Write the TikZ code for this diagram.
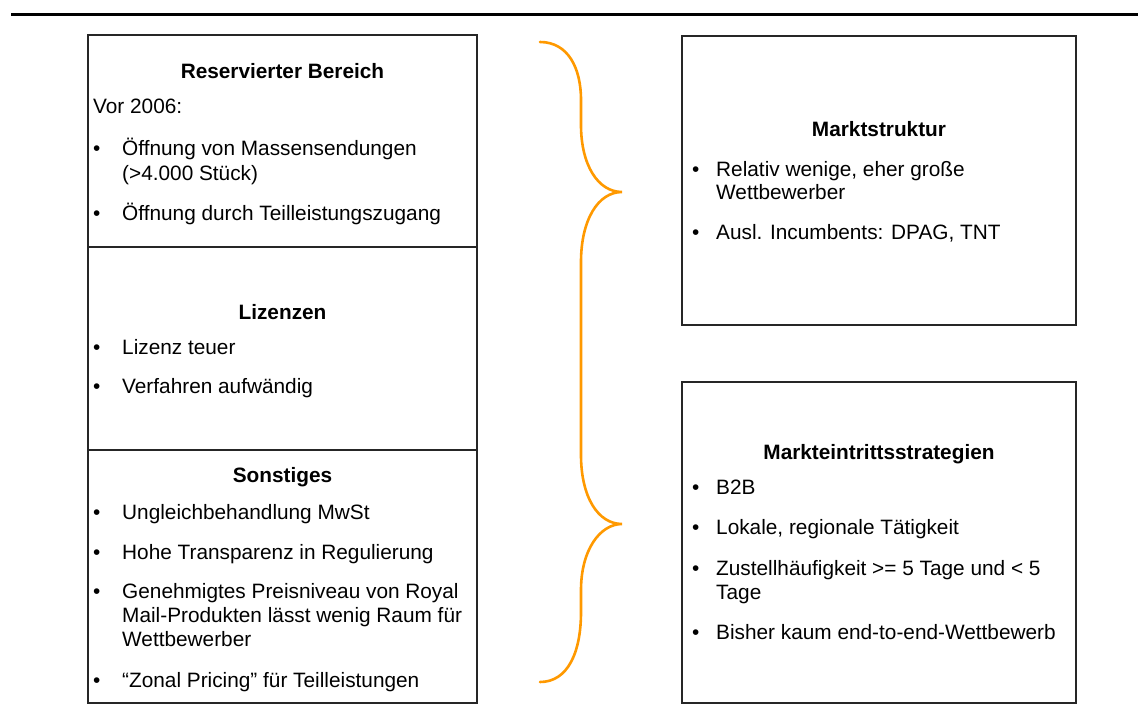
\documentclass[tikz,border=0pt]{standalone}
\usepackage{fontspec}
\setmainfont{Liberation Sans}
\definecolor{braceorange}{HTML}{FF9900}
\definecolor{boxgray}{HTML}{262626}
\begin{document}
\begin{tikzpicture}[x=1pt,y=-1pt,
  txt/.style={anchor=base west, inner sep=0pt, font=\fontsize{20.8}{24}\selectfont},
  ttl/.style={anchor=base, inner sep=0pt, font=\fontsize{20.8}{24}\selectfont\bfseries},
  bul/.style={anchor=base west, inner sep=0pt, font=\fontsize{20.8}{24}\selectfont},
  boxline/.style={draw=boxgray, line width=1.4pt},
  bracepath/.style={draw=braceorange, line width=2.6pt, line cap=round}]
\useasboundingbox (0,0) rectangle (1138,720);
% top rule
\draw[line width=3pt, black] (11,14) -- (1138,14);
% boxes
\draw[boxline] (88,35) rectangle (477,703);
\draw[boxline] (88,247) -- (477,247);
\draw[boxline] (88,450) -- (477,450);
\draw[boxline] (682,36) rectangle (1076,325);
\draw[boxline] (682,382) rectangle (1076,703);
% brace
\draw[bracepath] (540,42) .. controls (568,42) and (581,68) .. (581,100)
  -- (581,125) .. controls (581,165) and (598,192) .. (622,192)
  .. controls (598,192) and (581,220) .. (581,262)
  -- (581,455) .. controls (581,497) and (598,524) .. (622,524)
  .. controls (600,524) and (581,550) .. (581,590)
  -- (581,612) .. controls (581,652) and (568,682) .. (540,682);
% left box, section 1
\node[ttl] (t1) at (282.5,78) {Reservierter Bereich};
\node[txt] (v1) at (93,113) {Vor 2006:};
\node[bul] (b11) at (93,155) {•};
\node[txt] (l11) at (122,155) {Öffnung von Massensendungen};
\node[txt] (l12) at (122,180) {(>4.000 Stück)};
\node[bul] (b12) at (93,220) {•};
\node[txt] (l13) at (122,220) {Öffnung durch Teilleistungszugang};
% section 2
\node[ttl] (t2) at (282.5,319) {Lizenzen};
\node[bul] (b21) at (93,354) {•};
\node[txt] (l21) at (122,354) {Lizenz teuer};
\node[bul] (b22) at (93,393) {•};
\node[txt] (l22) at (122,393) {Verfahren aufwändig};
% section 3
\node[ttl] (t3) at (282.5,482) {Sonstiges};
\node[bul] (b31) at (93,519) {•};
\node[txt] (l31) at (122,519) {Ungleichbehandlung MwSt};
\node[bul] (b32) at (93,559) {•};
\node[txt] (l32) at (122,559) {Hohe Transparenz in Regulierung};
\node[bul] (b33) at (93,598) {•};
\node[txt] (l33) at (122,598) {Genehmigtes Preisniveau von Royal};
\node[txt] (l34) at (122,622) {Mail-Produkten lässt wenig Raum für};
\node[txt] (l35) at (122,646) {Wettbewerber};
\node[bul] (b34) at (93,687) {•};
\node[txt] (l36) at (122,687) {“Zonal Pricing” für Teilleistungen};
% right top box
\node[ttl] (t4) at (879,136) {Marktstruktur};
\node[bul] (b41) at (692,176) {•};
\node[txt] (l41) at (716,176) {Relativ wenige, eher große};
\node[txt] (l42) at (716,199) {Wettbewerber};
\node[bul] (b42) at (692,239) {•};
\node[txt] (l43) at (716,239) {Ausl. Incumbents: DPAG, TNT};
% right bottom box
\node[ttl] (t5) at (879,459) {Markteintrittsstrategien};
\node[bul] (b51) at (692,494) {•};
\node[txt] (l51) at (716,494) {B2B};
\node[bul] (b52) at (692,534) {•};
\node[txt] (l52) at (716,534) {Lokale, regionale Tätigkeit};
\node[bul] (b53) at (692,575) {•};
\node[txt] (l53) at (716,575) {Zustellhäufigkeit >= 5 Tage und < 5};
\node[txt] (l54) at (716,599) {Tage};
\node[bul] (b54) at (692,639) {•};
\node[txt] (l55) at (716,639) {Bisher kaum end-to-end-Wettbewerb};
\end{tikzpicture}
\end{document}
